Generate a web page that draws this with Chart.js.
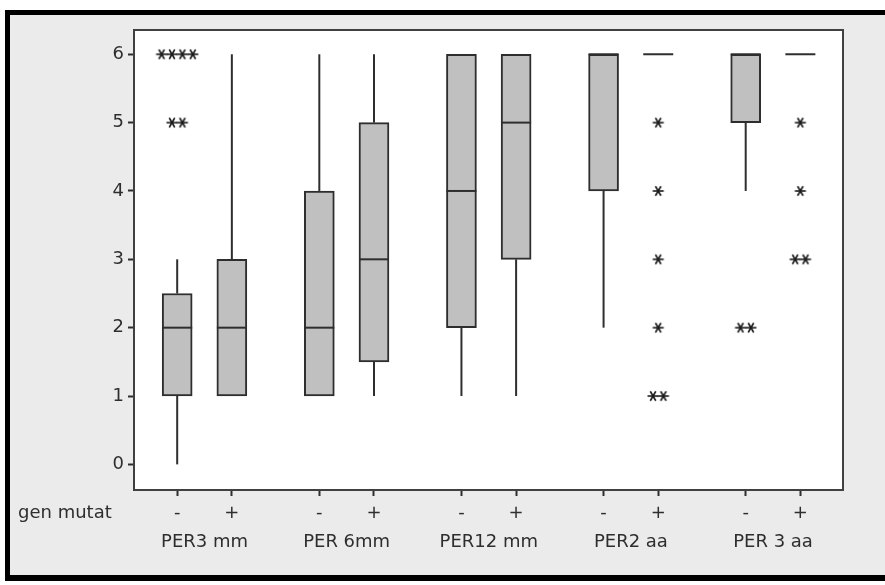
<!DOCTYPE html>
<html>
<head>
<meta charset="utf-8">
<script src="https://cdn.jsdelivr.net/npm/chart.js@4.4.1/dist/chart.umd.min.js"></script>
<style>
  body { margin: 0; background: #fff; }
  #frame {
    position: absolute; left: 5px; top: 10px; width: 880px; height: 560px;
    border-left: 5px solid #000; border-top: 5px solid #000; border-bottom: 6px solid #000;
    background: #ebebeb;
  }
  #chart { position: absolute; left: 0; top: 0; }
</style>
</head>
<body>
<div id="frame"></div>
<canvas id="chart" width="885" height="585"></canvas>
<script>
const groups = ['PER3 mm', 'PER 6mm', 'PER12 mm', 'PER2 aa', 'PER 3 aa'];
const mutation = ['-', '+'];
const yTicks = [0, 1, 2, 3, 4, 5, 6];

// one entry per box: PER3 mm -, PER3 mm +, PER 6mm -, ...
const whiskerLow = [0, 1, 1, 1, 1, 1, 2, 6, 4, 6];
const q1 = [1, 1, 1, 1.5, 2, 3, 4, 6, 5, 6];
const median = [2, 2, 2, 3, 4, 5, 6, 6, 6, 6];
const q3 = [2.5, 3, 4, 5, 6, 6, 6, 6, 6, 6];
const whiskerHigh = [3, 6, 6, 6, 6, 6, 6, 6, 6, 6];

// outliers: which box, value, how many
const outlierBox = [0, 0, 7, 7, 7, 7, 7, 8, 9, 9, 9];
const outlierValue = [6, 5, 5, 4, 3, 2, 1, 2, 5, 4, 3];
const outlierCount = [4, 2, 1, 1, 1, 1, 2, 2, 1, 1, 2];

const GROUP_STEP = 2.6;
const BOX_PX = 30;
const FONT = { family: 'DejaVu Sans', size: 18 };
const INK = '#2e2e2e';

function boxPos(i) {
    return Math.floor(i / 2) * GROUP_STEP + (i % 2);
}

const positions = median.map((m, i) => boxPos(i));
const groupCenters = groups.map((g, i) => i * GROUP_STEP + 0.5);

const boxData = positions.map((x, i) => ({ x, y: [q1[i], q3[i]] }));

const outlierPoints = [];
outlierBox.forEach((b, i) => {
    const n = outlierCount[i];
    for (let k = 0; k < n; k++) {
        outlierPoints.push({ x: positions[b] + (k - (n - 1) / 2) * 0.19, y: outlierValue[i] });
    }
});

function makeStar() {
    const c = document.createElement('canvas');
    c.width = 14; c.height = 14;
    const g = c.getContext('2d');
    g.strokeStyle = '#1a1a1a';
    g.lineWidth = 1.6;
    [0, 60, 120].forEach(a => {
        const r = a * Math.PI / 180;
        g.beginPath();
        g.moveTo(7 - 5.5 * Math.cos(r), 7 - 5.5 * Math.sin(r));
        g.lineTo(7 + 5.5 * Math.cos(r), 7 + 5.5 * Math.sin(r));
        g.stroke();
    });
    return c;
}

const boxPlugin = {
    id: 'boxExtras',
    beforeDraw(chart) {
        const { ctx, chartArea: a } = chart;
        ctx.save();
        ctx.fillStyle = '#fff';
        ctx.fillRect(a.left, a.top, a.right - a.left, a.bottom - a.top);
        ctx.restore();
    },
    afterDatasetsDraw(chart) {
        const { ctx } = chart;
        const xs = chart.scales.x, ys = chart.scales.y;
        ctx.save();
        ctx.strokeStyle = INK;
        ctx.lineWidth = 2;
        positions.forEach((p, i) => {
            const cx = xs.getPixelForValue(p);
            const line = (x1, y1, x2, y2) => {
                ctx.beginPath(); ctx.moveTo(x1, y1); ctx.lineTo(x2, y2); ctx.stroke();
            };
            if (whiskerHigh[i] > q3[i]) line(cx, ys.getPixelForValue(q3[i]), cx, ys.getPixelForValue(whiskerHigh[i]));
            if (whiskerLow[i] < q1[i]) line(cx, ys.getPixelForValue(q1[i]), cx, ys.getPixelForValue(whiskerLow[i]));
            const my = ys.getPixelForValue(median[i]);
            line(cx - BOX_PX / 2, my, cx + BOX_PX / 2, my);
        });
        ctx.restore();
    },
    afterDraw(chart) {
        const { ctx, chartArea: a } = chart;
        ctx.save();
        ctx.strokeStyle = '#404040';
        ctx.lineWidth = 2;
        ctx.strokeRect(a.left, a.top, a.right - a.left, a.bottom - a.top);
        ctx.fillStyle = INK;
        ctx.font = FONT.size + 'px ' + FONT.family;
        ctx.textBaseline = 'middle';
        ctx.textAlign = 'left';
        ctx.fillText('gen mutat', 18, 513);
        ctx.restore();
    }
};

new Chart(document.getElementById('chart'), {
    type: 'bar',
    data: {
        datasets: [
            {
                data: boxData,
                backgroundColor: '#c0c0c0',
                borderColor: INK,
                borderWidth: 2,
                borderSkipped: false,
                barThickness: BOX_PX,
                grouped: false
            },
            {
                type: 'scatter',
                data: outlierPoints,
                pointStyle: makeStar(),
                pointRadius: 6
            }
        ]
    },
    options: {
        responsive: false,
        animation: false,
        events: [],
        layout: { padding: { left: 0, top: 30, right: 42, bottom: 0 } },
        plugins: { legend: { display: false }, tooltip: { enabled: false } },
        scales: {
            x: {
                type: 'linear',
                offset: false,
                min: -0.79,
                max: 12.18,
                weight: 0,
                border: { display: false },
                grid: { offset: false, drawOnChartArea: false, drawTicks: true, tickLength: 6, tickColor: INK, tickWidth: 2 },
                ticks: {
                    autoSkip: false, maxRotation: 0, padding: 7, color: INK, font: FONT,
                    callback: (v, i) => mutation[i % 2]
                },
                afterBuildTicks: s => { s.ticks = positions.map(v => ({ value: v })); },
                afterFit: s => { s.height = 40; }
            },
            x2: {
                type: 'linear',
                offset: false,
                position: 'bottom',
                min: -0.79,
                max: 12.18,
                weight: 1,
                border: { display: false },
                grid: { display: false, offset: false, drawTicks: false },
                ticks: {
                    autoSkip: false, maxRotation: 0, padding: 2, color: INK, font: FONT,
                    callback: (v, i) => groups[i]
                },
                afterBuildTicks: s => { s.ticks = groupCenters.map(v => ({ value: v })); },
                afterFit: s => { s.height = 55; }
            },
            y: {
                min: -0.375,
                max: 6.355,
                border: { display: false },
                grid: { drawOnChartArea: false, drawTicks: true, tickLength: 6, tickColor: INK, tickWidth: 2 },
                ticks: { padding: 4, color: INK, font: FONT },
                afterBuildTicks: s => { s.ticks = yTicks.map(v => ({ value: v })); },
                afterFit: s => { s.width = 134; }
            }
        }
    },
    plugins: [boxPlugin]
});
</script>
</body>
</html>
